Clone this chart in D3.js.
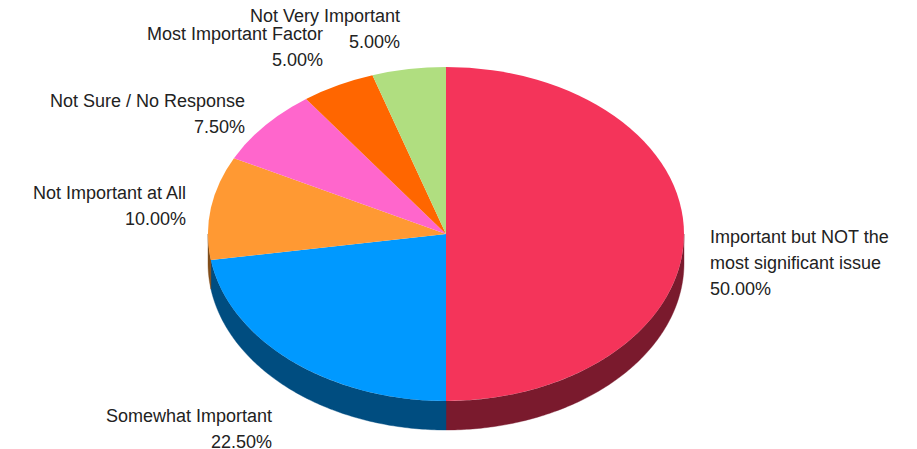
<!DOCTYPE html>
<html>
<head>
<meta charset="utf-8">
<script src="https://cdn.jsdelivr.net/npm/d3@7"></script>
<style>
html,body{margin:0;padding:0;background:#fff;overflow:hidden}
text{font-family:"Liberation Sans",Arial,sans-serif;font-size:18px;fill:#222}
</style>
</head>
<body>
<svg id="chart" width="917" height="449"></svg>
<script>
const categories = ["Important but NOT the\nmost significant issue","Somewhat Important","Not Important at All","Not Sure / No Response","Most Important Factor","Not Very Important"];
const values = [50, 22.5, 10, 7.5, 5, 5];
const tickLabels = ["50.00%","22.50%","10.00%","7.50%","5.00%","5.00%"];
const colors = ["#F4345A","#0099FF","#FF9933","#FF66CC","#FF6600","#B0DE80"];

// layout, separate from the data
const W = 917, H = 449, cx = 446, cy = 234, rx = 238, ry = 167, depth = 29;
const labelLayout = [
  {x:710, y:243, anchor:"start", lh:26},
  {x:272, y:422, anchor:"end",   lh:26},
  {x:186, y:199, anchor:"end",   lh:26},
  {x:245, y:107, anchor:"end",   lh:26},
  {x:323, y:40,  anchor:"end",   lh:26},
  {x:400, y:22,  anchor:"end",   lh:26}
];

const svg = d3.select("#chart");
const pie = d3.pie().value(d=>d).sort(null);
const arcs = pie(values);

const px = d3.scaleLinear().domain([-1,1]).range([cx-rx,cx+rx]);
const py = d3.scaleLinear().domain([-1,1]).range([cy-ry,cy+ry]);

// side wall: only the part of each slice facing the viewer (angle PI/2..3PI/2)
const sideG = svg.append("g");
arcs.forEach((a,i)=>{
  const s = Math.max(a.startAngle, Math.PI/2), e = Math.min(a.endAngle, 3*Math.PI/2);
  if (e <= s) return;
  const n = Math.max(2, Math.ceil((e-s)*80));
  const angles = d3.range(n+1).map(k=>s+(e-s)*k/n);
  const p = d3.path();
  angles.forEach((t,k)=>{
    const X = px(Math.sin(t)), Y = py(-Math.cos(t));
    k ? p.lineTo(X,Y) : p.moveTo(X,Y);
  });
  angles.slice().reverse().forEach(t=>p.lineTo(px(Math.sin(t)), py(-Math.cos(t))+depth));
  p.closePath();
  sideG.append("path").attr("d",p.toString())
    .attr("fill", d3.interpolateRgb(colors[i],"#000")(0.5))
    .attr("stroke", d3.interpolateRgb(colors[i],"#000")(0.5)).attr("stroke-width",0.4);
});

// top face
const arc = d3.arc().innerRadius(0).outerRadius(1);
svg.append("g").attr("transform",`translate(${cx},${cy}) scale(${rx},${ry})`)
  .selectAll("path").data(arcs).join("path")
  .attr("d",arc).attr("fill",(d,i)=>colors[i]);

// labels
const lab = svg.append("g").selectAll("text").data(categories).join("text")
  .attr("text-anchor",(d,i)=>labelLayout[i].anchor);
lab.each(function(d,i){
  const L = labelLayout[i];
  const lines = d.split("\n").concat(tickLabels[i]);
  d3.select(this).selectAll("tspan").data(lines).join("tspan")
    .attr("x",L.x).attr("y",(t,k)=>L.y+k*L.lh).text(t=>t);
});
</script>
</body>
</html>
